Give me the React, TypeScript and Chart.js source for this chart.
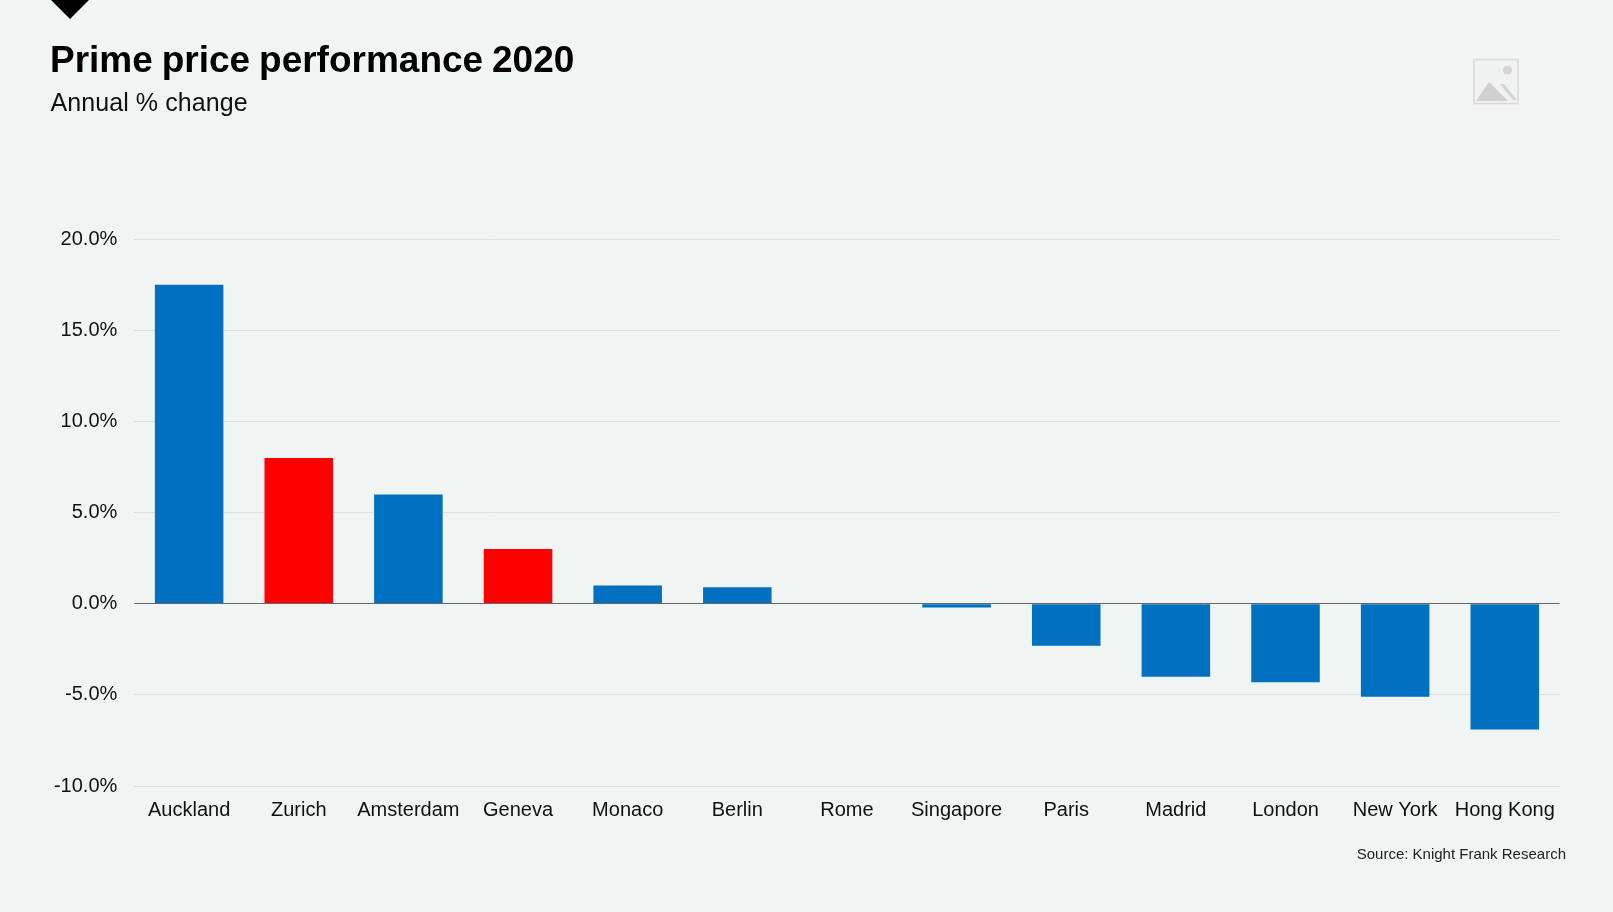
import React, { useEffect, useRef } from "react";
import { Chart, registerables } from "chart.js";

Chart.register(...registerables);

const categories = ["Auckland", "Zurich", "Amsterdam", "Geneva", "Monaco", "Berlin", "Rome", "Singapore", "Paris", "Madrid", "London", "New York", "Hong Kong"];
const annualChange = [17.5, 8.0, 6.0, 3.0, 1.0, 0.9, 0, -0.2, -2.3, -4.0, -4.3, -5.1, -6.9];
const highlighted = ["Zurich", "Geneva"];
const title = "Prime price performance 2020";
const subtitle = "Annual % change";
const source = "Source: Knight Frank Research";

const FONT = '"Liberation Sans", Arial, sans-serif';
const BG = "#F0F4F3";

const zeroLine = {
  id: "zeroLine",
  afterDatasetsDraw(chart: any) {
    const { ctx, chartArea, scales } = chart;
    const y = Math.floor(scales.y.getPixelForValue(0)) + 0.5;
    ctx.save();
    ctx.strokeStyle = "#666666";
    ctx.lineWidth = 1;
    ctx.beginPath();
    ctx.moveTo(chartArea.left, y);
    ctx.lineTo(chartArea.right, y);
    ctx.stroke();
    ctx.restore();
  },
};

export default function App() {
  const ref = useRef<HTMLCanvasElement>(null);
  useEffect(() => {
    const chart = new Chart(ref.current as HTMLCanvasElement, {
      type: "bar",
      data: {
        labels: categories,
        datasets: [
          {
            data: annualChange,
            backgroundColor: categories.map((c) => (highlighted.includes(c) ? "#FF0000" : "#0070C0")),
            borderWidth: 0,
            categoryPercentage: 0.625,
            barPercentage: 1,
          },
        ],
      },
      options: {
        responsive: false,
        animation: false,
        maintainAspectRatio: false,
        layout: { padding: { top: 239.3, right: 53.4, bottom: 912 - 786 - 48, left: 0 } },
        plugins: { legend: { display: false }, title: { display: false }, tooltip: { enabled: false } },
        scales: {
          x: {
            grid: { display: false },
            border: { display: false },
            ticks: {
              color: "#111111",
              font: { family: FONT, size: 20 },
              padding: 4,
              maxRotation: 0,
              autoSkip: false,
            },
            afterFit(s: any) {
              s.height = 48;
            },
          },
          y: {
            min: -10,
            max: 20,
            afterFit(s: any) {
              s.width = 134.3;
            },
            border: { display: false },
            grid: { color: "#DADEDE", lineWidth: 1, drawTicks: false },
            ticks: {
              stepSize: 5,
              color: "#111111",
              font: { family: FONT, size: 20 },
              padding: 17,
              callback: (v: any) => Number(v).toFixed(1) + "%",
            },
          },
        },
      },
      plugins: [zeroLine],
    } as any);
    return () => chart.destroy();
  }, []);

  const text = (extra: React.CSSProperties): React.CSSProperties => ({
    position: "absolute",
    fontFamily: FONT,
    whiteSpace: "nowrap",
    color: "#000",
    lineHeight: 1,
    margin: 0,
    ...extra,
  });

  return (
    <div style={{ position: "fixed", left: 0, top: 0, width: 1613, height: 912, background: BG, overflow: "hidden" }}>
      <canvas ref={ref} width={1613} height={912} style={{ position: "absolute", left: 0, top: 0, display: "block" }} />
      <svg width={1613} height={130} style={{ position: "absolute", left: 0, top: 0 }}>
        <polygon points="51,0 89,0 70,19" fill="#000" />
        <rect x={1430} y={43} width={130} height={82} fill="#F2F3F3" />
        <rect x={1474} y={59.5} width={44} height={44} fill="#F0F1F1" stroke="#D8D8D8" strokeWidth={1.5} />
        <circle cx={1507.5} cy={70} r={4.5} fill="#D4D4D4" />
        <polygon points="1476,101 1489,82 1508,101" fill="#D0D0D0" />
        <polygon points="1500,84 1504,84 1517,100 1513,100" fill="#D4D4D4" />
      </svg>
      <div style={text({ left: 50, top: 41, fontSize: 37, fontWeight: 700, wordSpacing: -1.4 })}>{title}</div>
      <div style={text({ left: 50.5, top: 89.5, fontSize: 25, color: "#111", letterSpacing: 0.08 })}>{subtitle}</div>
      <div style={text({ right: 47, top: 845.5, fontSize: 15, color: "#222" })}>{source}</div>
    </div>
  );
}
